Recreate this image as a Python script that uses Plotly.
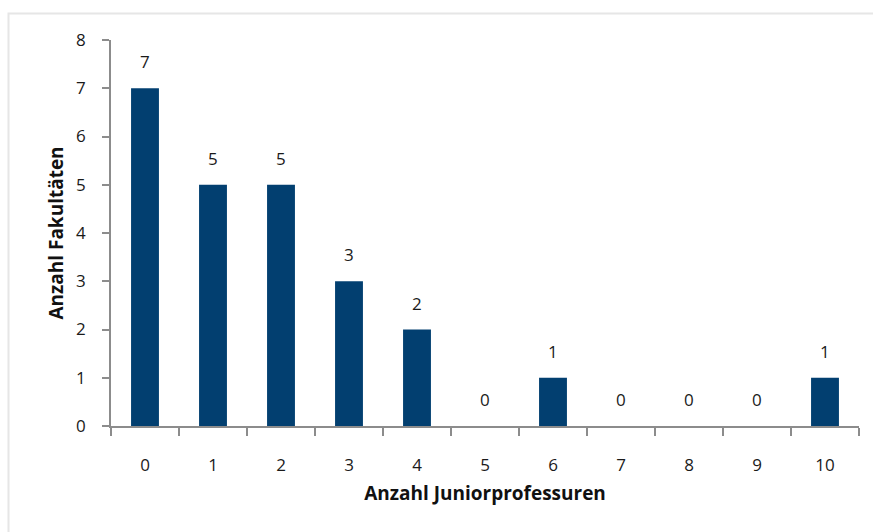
import plotly.graph_objects as go

# Number of junior professorships per faculty vs. number of faculties
categories = ["0", "1", "2", "3", "4", "5", "6", "7", "8", "9", "10"]
faculties = [7, 5, 5, 3, 2, 0, 1, 0, 0, 0, 1]
y_ticks = [0, 1, 2, 3, 4, 5, 6, 7, 8]

BAR_COLOR = "#023f70"
AXIS_COLOR = "#8c8c8c"
TEXT_COLOR = "#1a1a1a"
FONT = "Open Sans"
SIZE = 17
TITLE_SIZE = 19

fig = go.Figure(
    go.Bar(
        x=categories,
        y=faculties,
        marker=dict(color=BAR_COLOR, line=dict(width=0)),
        hoverinfo="x+y",
    )
)

# Value labels above each bar
for cat, val in zip(categories, faculties):
    fig.add_annotation(
        x=cat, y=val, text=str(val),
        xref="x", yref="y",
        yanchor="bottom", yshift=13,
        showarrow=False,
        font=dict(family=FONT, size=SIZE, color=TEXT_COLOR),
    )

fig.update_layout(
    width=873,
    height=532,
    margin=dict(l=111, r=14, t=40, b=106),
    paper_bgcolor="white",
    plot_bgcolor="white",
    bargap=0.59,
    showlegend=False,
    font=dict(family=FONT, size=SIZE, color=TEXT_COLOR),
)

fig.update_xaxes(
    type="category",
    categoryorder="array",
    categoryarray=categories,
    showline=True,
    linecolor=AXIS_COLOR,
    linewidth=1.5,
    ticks="outside",
    tickson="boundaries",
    ticklen=8,
    tickcolor=AXIS_COLOR,
    tickwidth=1.5,
    ticklabelstandoff=23,
    showgrid=False,
    tickfont=dict(family=FONT, size=SIZE, color=TEXT_COLOR),
    title=dict(
        text="<b>Anzahl Juniorprofessuren</b>",
        font=dict(family=FONT, size=TITLE_SIZE, color="#111111"),
        standoff=12,
    ),
)

fig.update_yaxes(
    range=[0, 8],
    tickmode="array",
    tickvals=y_ticks,
    showline=True,
    linecolor=AXIS_COLOR,
    linewidth=1.5,
    ticks="outside",
    ticklen=7,
    tickcolor=AXIS_COLOR,
    tickwidth=1.5,
    ticklabelstandoff=13,
    showgrid=False,
    zeroline=False,
    tickfont=dict(family=FONT, size=SIZE, color=TEXT_COLOR),
    title=dict(
        text="<b>Anzahl Fakultäten</b>",
        font=dict(family=FONT, size=TITLE_SIZE, color="#111111"),
        standoff=7,
    ),
)

# Light frame around the chart area
fig.add_shape(
    type="rect",
    xref="paper", yref="paper",
    x0=(8.5 - 111) / 748, x1=(880 - 111) / 748,
    y0=-0.4, y1=1 + (40 - 13.5) / 386,
    line=dict(color="#e6e6e6", width=2),
    fillcolor="rgba(0,0,0,0)",
    layer="below",
)

fig.write_html("out.html")
